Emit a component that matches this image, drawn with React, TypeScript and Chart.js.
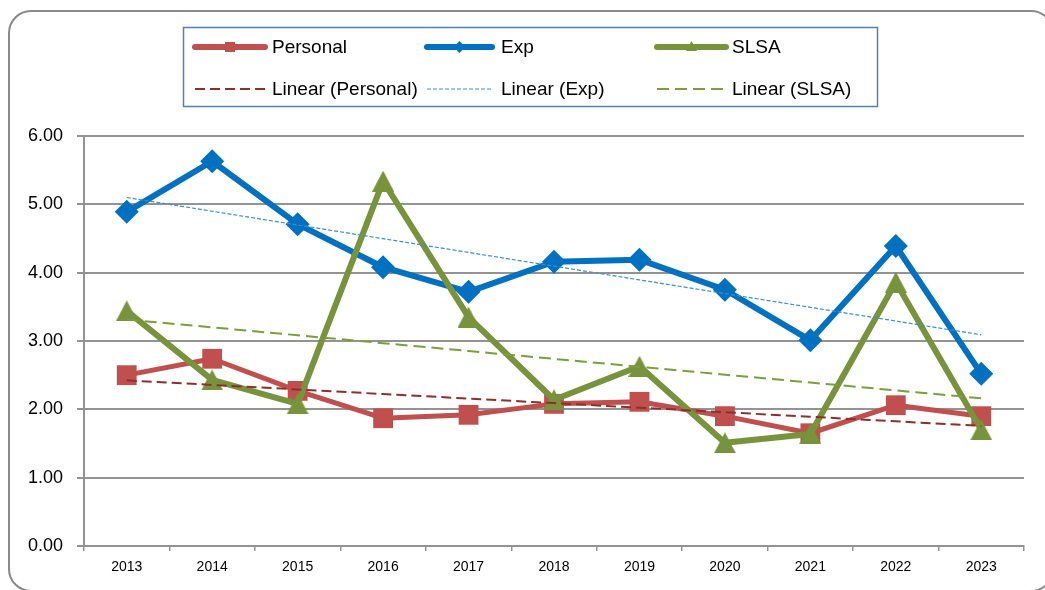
import { useEffect, useRef } from "react";
import { Chart, registerables } from "chart.js";

Chart.register(...registerables);

// ---------- data ----------
const years = ["2013", "2014", "2015", "2016", "2017", "2018", "2019", "2020", "2021", "2022", "2023"];
const personal = [2.5, 2.74, 2.27, 1.87, 1.92, 2.08, 2.11, 1.9, 1.65, 2.06, 1.9];
const exp = [4.89, 5.63, 4.71, 4.08, 3.72, 4.16, 4.19, 3.75, 3.01, 4.39, 2.52];
const slsa = [3.44, 2.43, 2.08, 5.34, 3.35, 2.14, 2.63, 1.51, 1.64, 3.86, 1.7];
const seriesNames = ["Personal", "Exp", "SLSA"];
const yMin = 0;
const yMax = 6;
const yStep = 1;

// ---------- styles ----------
const RED = "#C0504D";
const BLUE = "#0070C0";
const GREEN = "#77933C";
const RED_TREND = "#8E2F2D";
const BLUE_TREND = "#3A8FD9";
const GREEN_TREND = "#79A03A";
const GRID = "#939393";
const FONT = '"Liberation Sans", Arial, sans-serif';

// least-squares linear trend (as Excel's "Linear" trendline)
function linearTrend(values: number[]): number[] {
  const n = values.length;
  const mx = (n - 1) / 2;
  const my = values.reduce((a, b) => a + b, 0) / n;
  let sxy = 0;
  let sxx = 0;
  values.forEach((v, i) => {
    sxy += (i - mx) * (v - my);
    sxx += (i - mx) * (i - mx);
  });
  const slope = sxy / sxx;
  return values.map((_, i) => my + slope * (i - mx));
}

function makeTriangle(w: number, h: number, color: string) {
  const c = document.createElement("canvas");
  c.width = w;
  c.height = h;
  const g = c.getContext("2d")!;
  g.fillStyle = color;
  g.beginPath();
  g.moveTo(w / 2, 0);
  g.lineTo(w, h);
  g.lineTo(0, h);
  g.closePath();
  g.fill();
  return c;
}

const framePlugin = {
  id: "frame",
  beforeDraw(chart: any) {
    const ctx = chart.ctx as CanvasRenderingContext2D;
    ctx.save();
    ctx.fillStyle = "#ffffff";
    ctx.fillRect(0, 0, chart.width, chart.height);
    ctx.strokeStyle = "#8a8a8a";
    ctx.lineWidth = 2;
    ctx.beginPath();
    (ctx as any).roundRect(9, 11, 1044, 580, 22);
    ctx.stroke();
    ctx.restore();
  },
};

function drawMarker(ctx: CanvasRenderingContext2D, kind: string, x: number, y: number, color: string) {
  ctx.fillStyle = color;
  ctx.beginPath();
  if (kind === "rect") {
    ctx.rect(x - 5, y - 5, 10, 10);
  } else if (kind === "rectRot") {
    ctx.moveTo(x - 6, y);
    ctx.lineTo(x, y - 6);
    ctx.lineTo(x + 6, y);
    ctx.lineTo(x, y + 6);
    ctx.closePath();
  } else {
    ctx.moveTo(x, y - 6);
    ctx.lineTo(x + 5.5, y + 4);
    ctx.lineTo(x - 5.5, y + 4);
    ctx.closePath();
  }
  ctx.fill();
}

const legendPlugin = {
  id: "boxLegend",
  afterDraw(chart: any) {
    const ctx = chart.ctx as CanvasRenderingContext2D;
    const ds = chart.data.datasets as any[];
    ctx.save();
    ctx.fillStyle = "#ffffff";
    ctx.fillRect(183, 27, 694, 79);
    ctx.strokeStyle = "#4F81BD";
    ctx.lineWidth = 1.5;
    ctx.strokeRect(183.5, 27.5, 694, 79);

    const x0 = [195, 427, 657];
    const x1 = [265, 492, 726];
    const tx = [272, 501, 732];
    const rows = [47, 89];
    ctx.font = `19px ${FONT}`;
    ctx.textBaseline = "middle";
    ctx.textAlign = "left";
    // dataset order in array: trends (0..2), then series (3..5)
    const series = ds.slice(3);
    const trends = ds.slice(0, 3);
    series.forEach((d, i) => {
      const y = rows[0];
      ctx.strokeStyle = d.borderColor;
      ctx.lineWidth = 6;
      ctx.lineCap = "round";
      ctx.setLineDash([]);
      ctx.beginPath();
      ctx.moveTo(x0[i], y);
      ctx.lineTo(x1[i], y);
      ctx.stroke();
      drawMarker(ctx, d.legendMarker, (x0[i] + x1[i]) / 2, y, d.borderColor);
      ctx.fillStyle = "#000";
      ctx.fillText(d.label, tx[i], y + 1);
    });
    trends.forEach((d, i) => {
      const y = rows[1];
      ctx.strokeStyle = d.borderColor;
      ctx.lineWidth = d.borderWidth;
      ctx.lineCap = "butt";
      ctx.setLineDash(d.borderDash);
      ctx.beginPath();
      ctx.moveTo(x0[i], y);
      ctx.lineTo(x1[i], y);
      ctx.stroke();
      ctx.setLineDash([]);
      ctx.fillStyle = "#000";
      ctx.fillText(d.label, tx[i], y + 1);
    });
    ctx.restore();
  },
};

export default function App() {
  const ref = useRef<HTMLCanvasElement | null>(null);

  useEffect(() => {
    if (!ref.current) return;
    const tri = makeTriangle(22, 21, GREEN);
    const values = [personal, exp, slsa];
    const trendColors = [RED_TREND, BLUE_TREND, GREEN_TREND];
    const trendDash = [[10, 5], [4, 2], [12, 6]];
    const trendWidth = [2, 1.2, 2];
    const trends = values.map((v, i) => ({
      label: `Linear (${seriesNames[i]})`,
      data: linearTrend(v),
      borderColor: trendColors[i],
      backgroundColor: trendColors[i],
      borderWidth: trendWidth[i],
      borderDash: trendDash[i],
      pointRadius: 0,
      fill: false,
      order: 0,
    }));
    const chart = new Chart(ref.current, {
      type: "line",
      data: {
        labels: years,
        datasets: [
          ...trends,
          {
            label: seriesNames[0],
            data: personal,
            borderColor: RED,
            backgroundColor: RED,
            borderWidth: 5,
            pointStyle: "rect",
            pointRadius: 14,
            pointBorderWidth: 0,
            borderJoinStyle: "round",
            borderCapStyle: "round",
            order: 3,
            legendMarker: "rect",
          },
          {
            label: seriesNames[1],
            data: exp,
            borderColor: BLUE,
            backgroundColor: BLUE,
            borderWidth: 6,
            pointStyle: "rectRot",
            pointRadius: 12,
            pointBorderWidth: 0,
            borderJoinStyle: "round",
            borderCapStyle: "round",
            order: 2,
            legendMarker: "rectRot",
          },
          {
            label: seriesNames[2],
            data: slsa,
            borderColor: GREEN,
            backgroundColor: GREEN,
            borderWidth: 6,
            pointStyle: tri,
            pointRadius: 11,
            pointBorderWidth: 0,
            borderJoinStyle: "round",
            borderCapStyle: "round",
            order: 1,
            legendMarker: "triangle",
          },
        ] as any,
      },
      options: {
        animation: false,
        responsive: false,
        devicePixelRatio: 1,
        layout: { padding: { top: 136, right: 21, bottom: 0, left: 0 } },
        plugins: {
          legend: { display: false },
          tooltip: { enabled: false },
          title: { display: false },
        },
        elements: { line: { tension: 0 } },
        scales: {
          x: {
            type: "category",
            offset: true,
            grid: {
              offset: true,
              drawOnChartArea: false,
              drawTicks: true,
              tickLength: 5,
              color: GRID,
              lineWidth: 1.5,
            },
            border: { display: true, color: GRID, width: 2 },
            ticks: {
              color: "#000",
              font: { family: FONT, size: 14 },
              padding: 8,
              maxRotation: 0,
              autoSkip: false,
            },
            afterFit: (s: any) => {
              s.height = 44;
            },
          },
          y: {
            min: yMin,
            max: yMax,
            ticks: {
              stepSize: yStep,
              color: "#000",
              font: { family: FONT, size: 18 },
              padding: 14,
              callback: (v: any) => Number(v).toFixed(2),
            },
            grid: {
              color: GRID,
              lineWidth: 2,
              drawTicks: true,
              tickLength: 7,
            },
            border: { display: true, color: GRID, width: 2 },
            afterFit: (s: any) => {
              s.width = 84;
            },
          },
        },
      } as any,
      plugins: [framePlugin, legendPlugin],
    });
    return () => chart.destroy();
  }, []);

  return (
    <div style={{ position: "fixed", left: 0, top: 0, width: 1045, height: 590, background: "#fff" }}>
      <canvas ref={ref} width={1045} height={590} style={{ display: "block" }} />
    </div>
  );
}
